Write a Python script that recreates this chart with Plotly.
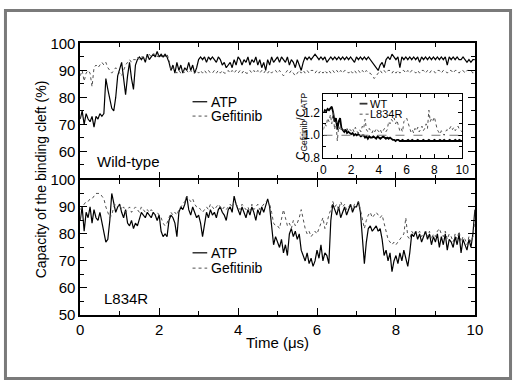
import plotly.graph_objects as go

# ---------------- data ----------------
time_main = [round(i * 0.05, 2) for i in range(201)]   # 0 .. 10 us
time_inset = [round(i * 0.1, 1) for i in range(101)]   # 0 .. 10 us

wt_atp = [
    72, 75, 70, 74, 72, 71, 73, 69, 73, 72, 74, 73, 74, 87, 83, 80, 76, 75, 80, 88,
    91, 93, 87, 81, 88, 93, 87, 83, 92, 94, 95, 94, 95, 93, 96, 94, 95, 96, 95, 97,
    95, 96, 95, 96, 95, 93, 90, 92, 89, 93, 90, 92, 89, 91, 90, 93, 90, 92, 89, 91,
    94, 95, 94, 95, 93, 95, 94, 95, 94, 93, 95, 94, 92, 93, 91, 92, 93, 91, 94, 92,
    95, 94, 92, 94, 93, 95, 92, 94, 93, 95, 92, 94, 91, 93, 90, 94, 92, 95, 93, 94,
    95, 93, 95, 94, 93, 95, 92, 94, 93, 91, 94, 92, 90, 93, 95, 94, 95, 94, 95, 96,
    95, 94, 95, 94, 95, 93, 94, 95, 94, 95, 94, 95, 94, 95, 94, 95, 94, 95, 94, 93,
    95, 94, 95, 94, 95, 94, 95, 94, 93, 92, 91, 90, 92, 93, 91, 94, 95, 94, 96, 95,
    94, 95, 91, 95, 94, 95, 94, 95, 94, 95, 94, 95, 93, 95, 94, 95, 94, 95, 94, 95,
    94, 95, 94, 95, 94, 95, 92, 95, 94, 95, 94, 95, 94, 94, 95, 94, 93, 94, 93, 94,
    94,
]
wt_gef = [
    88, 90, 86, 89, 90, 89, 84, 91, 92, 91, 92, 93, 92, 93, 91, 90, 89, 90, 91, 90,
    89, 88, 90, 92, 93, 94, 93, 94, 94, 95, 94, 95, 95, 94, 95, 96, 95, 96, 96, 95,
    96, 95, 96, 95, 96, 94, 90, 91, 90, 89, 90, 89, 90, 89, 90, 89, 90, 89, 89, 90,
    89, 90, 89, 90, 89, 90, 89, 89, 90, 89, 90, 89, 90, 89, 89, 90, 89, 90, 89, 90,
    89, 90, 89, 90, 89, 89, 90, 89, 90, 89, 90, 89, 90, 89, 90, 89, 90, 89, 90, 90,
    89, 90, 89, 88, 89, 90, 89, 90, 89, 88, 89, 90, 89, 90, 89, 90, 89, 90, 90, 89,
    90, 89, 90, 89, 90, 89, 90, 89, 90, 89, 90, 89, 90, 89, 90, 90, 89, 90, 89, 90,
    89, 90, 89, 90, 89, 90, 89, 89, 88, 87, 88, 89, 90, 89, 90, 89, 90, 90, 89, 90,
    89, 90, 89, 90, 90, 89, 90, 89, 90, 90, 89, 90, 89, 90, 90, 89, 90, 89, 90, 90,
    89, 90, 90, 89, 90, 90, 89, 90, 90, 89, 90, 90, 89, 90, 90, 89, 90, 90, 90, 89,
    90,
]
l834r_atp = [
    85, 90, 81, 88, 86, 90, 84, 89, 86, 85, 88, 84, 80, 77, 78, 85, 95, 91, 88, 90,
    91, 88, 86, 89, 84, 83, 85, 82, 84, 83, 86, 88, 87, 86, 88, 87, 86, 88, 87, 85,
    87, 81, 79, 80, 79, 85, 87, 86, 84, 79, 88, 90, 89, 91, 94, 89, 87, 90, 88, 86,
    87, 84, 79, 83, 88, 86, 89, 87, 88, 86, 89, 90, 88, 87, 85, 89, 90, 88, 94, 91,
    89, 87, 90, 88, 86, 89, 87, 90, 88, 85, 89, 87, 90, 88, 91, 93, 90, 84, 76, 79,
    77, 75, 78, 73, 76, 72, 80, 82, 79, 81, 78, 80, 74, 72, 70, 73, 69, 71, 68, 70,
    74, 71, 76, 70, 73, 72, 69, 85, 91, 89, 87, 90, 86, 88, 90, 87, 89, 91, 88, 90,
    90, 92, 88, 80, 69, 77, 82, 83, 81, 82, 83, 81, 82, 78, 72, 74, 70, 73, 66, 70,
    72, 69, 73, 70, 74, 71, 68, 73, 80, 79, 81, 78, 80, 77, 79, 81, 78, 80, 76, 79,
    77, 80, 75, 79, 76, 80, 74, 78, 77, 75, 79, 76, 80, 73, 78, 76, 74, 78, 75, 80,
    89,
]
l834r_gef = [
    89, 90, 91, 92, 92, 93, 93, 94, 95, 95, 95, 94, 93, 90, 88, 86, 87, 90, 91, 90,
    91, 89, 90, 88, 89, 90, 88, 89, 90, 89, 88, 90, 89, 88, 89, 88, 89, 88, 87, 88,
    87, 86, 84, 83, 84, 86, 88, 87, 88, 87, 89, 90, 91, 92, 94, 93, 92, 93, 91, 90,
    90, 89, 88, 89, 90, 89, 91, 90, 89, 90, 91, 90, 89, 90, 89, 90, 91, 90, 92, 91,
    90, 89, 91, 90, 89, 90, 88, 91, 89, 90, 91, 89, 90, 91, 92, 92, 91, 88, 84, 83,
    83, 82, 85, 89, 86, 83, 84, 82, 85, 83, 84, 86, 89, 85, 82, 80, 81, 79, 80, 81,
    80, 82, 84, 86, 82, 84, 87, 89, 92, 90, 91, 89, 92, 90, 91, 89, 90, 91, 89, 91,
    91, 92, 89, 85, 82, 85, 87, 88, 86, 87, 88, 87, 86, 87, 84, 80, 78, 77, 76, 77,
    76, 77, 78, 79, 80, 86, 79, 78, 81, 80, 81, 80, 81, 79, 80, 81, 79, 81, 78, 80,
    79, 81, 82, 80, 79, 81, 78, 80, 79, 77, 80, 78, 81, 77, 79, 78, 76, 79, 77, 79,
    85,
]
ratio_wt = [
    1.20, 1.22, 1.21, 1.23, 1.22, 1.24, 1.25, 1.20, 1.12, 1.15,
    1.05, 1.12, 1.15, 1.06, 1.04, 1.03, 1.05, 1.02, 1.03, 1.02,
    1.01, 1.02, 1.00, 1.01, 1.00, 1.01, 1.00, 0.99, 1.00, 1.00,
    0.98, 0.99, 0.97, 0.99, 0.98, 0.98, 0.99, 0.98, 0.97, 0.99,
    0.98, 0.97, 0.98, 0.99, 0.98, 0.97, 0.98, 0.97, 0.98, 0.97,
    0.96, 0.96, 0.95, 0.96, 0.96, 0.95, 0.95, 0.96, 0.95, 0.95,
    0.95, 0.96, 0.95, 0.95, 0.96, 0.95, 0.95, 0.95, 0.96, 0.95,
    0.95, 0.95, 0.96, 0.95, 0.95, 0.95, 0.96, 0.95, 0.95, 0.95,
    0.96, 0.95, 0.95, 0.95, 0.96, 0.95, 0.95, 0.96, 0.95, 0.95,
    0.95, 0.96, 0.95, 0.95, 0.95, 0.96, 0.95, 0.95, 0.96, 0.95,
    0.95,
]
ratio_l834r = [
    1.05, 1.10, 1.08, 1.15, 1.12, 1.18, 1.10, 1.20, 1.05, 1.12,
    0.95, 1.08, 1.04, 1.06, 1.03, 1.05, 1.04, 1.06, 1.03, 1.05,
    1.04, 1.06, 1.03, 1.07, 1.04, 1.02, 1.05, 1.03, 1.08, 1.06,
    1.14, 1.05, 1.03, 1.06, 1.04, 1.02, 1.05, 1.03, 1.06, 1.04,
    1.03, 1.05, 1.02, 1.04, 1.06, 1.03, 1.05, 1.12, 1.10, 1.14,
    1.12, 1.15, 1.10, 1.13, 1.09, 1.04, 1.06, 1.03, 1.12, 1.14,
    1.15, 1.11, 1.06, 1.03, 1.05, 1.02, 1.06, 1.04, 1.07, 1.03,
    1.05, 1.08, 1.04, 1.06, 1.10, 1.06, 1.22, 1.12, 1.15, 1.13,
    1.16, 1.10, 1.05, 1.03, 1.01, 1.04, 1.02, 1.00, 1.03, 1.05,
    1.04, 1.06, 1.08, 1.05, 1.07, 1.04, 1.06, 1.08, 1.05, 1.04,
    1.03,
]

x_ticks = [0, 2, 4, 6, 8, 10]
x_minor = [1, 3, 5, 7, 9]
y_ticks = [50, 60, 70, 80, 90, 100]
y_ticks_top = [60, 70, 80, 90, 100]
y_minor = [55, 65, 75, 85, 95]
inset_y_ticks = [0.8, 1.0, 1.2]
inset_y_minor = [0.9, 1.1, 1.3]

for name, arr, n in [("wt_atp", wt_atp, 201), ("wt_gef", wt_gef, 201),
                     ("l834r_atp", l834r_atp, 201), ("l834r_gef", l834r_gef, 201),
                     ("ratio_wt", ratio_wt, 101), ("ratio_l834r", ratio_l834r, 101)]:
    assert len(arr) == n, f"{name}: {len(arr)}"

# ---------------- figure ----------------
FONT = "Liberation Sans, Arial, Helvetica, sans-serif"
W, H = 520, 388
L, R = 78, 482
TOP_T, MID, BOT = 36, 178, 320
IN_L, IN_R, IN_T, IN_B = 327, 469, 89, 156
LW = 1.5  # main axis line width


def px(x):
    return x / W


def py(y):
    return 1 - y / H


atp_line = dict(color="black", width=1.2)
gef_line = dict(color="#505050", width=1.0, dash="dot")

fig = go.Figure()
fig.add_trace(go.Scatter(x=time_main, y=wt_atp, mode="lines", name="ATP",
                         line=atp_line, xaxis="x2", yaxis="y2"))
fig.add_trace(go.Scatter(x=time_main, y=wt_gef, mode="lines", name="Gefitinib",
                         line=gef_line, xaxis="x2", yaxis="y2"))
fig.add_trace(go.Scatter(x=time_main, y=l834r_atp, mode="lines", name="ATP",
                         line=atp_line, xaxis="x", yaxis="y"))
fig.add_trace(go.Scatter(x=time_main, y=l834r_gef, mode="lines", name="Gefitinib",
                         line=gef_line, xaxis="x", yaxis="y"))
fig.add_trace(go.Scatter(x=time_inset, y=ratio_wt, mode="lines", name="WT",
                         line=dict(color="black", width=1.8), xaxis="x3", yaxis="y3"))
fig.add_trace(go.Scatter(x=time_inset, y=ratio_l834r, mode="lines", name="L834R",
                         line=dict(color="#505050", width=1.0, dash="dot"),
                         xaxis="x3", yaxis="y3"))

minor_main = dict(ticks="inside", ticklen=4, tickwidth=1.2, tickcolor="black")
axis_common = dict(showline=True, linecolor="black", linewidth=LW, mirror="ticks",
                   ticks="inside", ticklen=7, tickwidth=1.4, tickcolor="black",
                   showgrid=False, zeroline=False,
                   tickfont=dict(family=FONT, size=15, color="black"))
inset_common = dict(showline=True, linecolor="black", linewidth=1, mirror="ticks",
                    ticks="inside", ticklen=4, tickwidth=1, tickcolor="black",
                    showgrid=False, zeroline=False,
                    tickfont=dict(family=FONT, size=12, color="black"))
minor_inset = dict(ticks="inside", ticklen=3, tickwidth=1, tickcolor="black")

half = LW / 2
fig.update_layout(
    width=W, height=H, autosize=False,
    margin=dict(l=0, r=0, t=0, b=0),
    paper_bgcolor="white", plot_bgcolor="white",
    font=dict(family=FONT, color="black"),
    showlegend=False,
    xaxis=dict(domain=[px(L), px(R)], range=[0, 10], anchor="y",
               tickmode="array", tickvals=x_ticks,
               minor=dict(tickvals=x_minor, **minor_main), **axis_common),
    yaxis=dict(domain=[py(BOT), py(MID + half)], range=[50, 100], anchor="x",
               tickmode="array", tickvals=y_ticks,
               minor=dict(tickvals=y_minor, **minor_main), **axis_common),
    xaxis2=dict(domain=[px(L), px(R)], range=[0, 10], anchor="y2",
                tickmode="array", tickvals=x_ticks, showticklabels=False,
                minor=dict(tickvals=x_minor, **minor_main), **axis_common),
    yaxis2=dict(domain=[py(MID - half), py(TOP_T)], range=[50, 100], anchor="x2",
                tickmode="array", tickvals=y_ticks_top,
                minor=dict(tickvals=y_minor, **minor_main), **axis_common),
    xaxis3=dict(domain=[px(IN_L), px(IN_R)], range=[0, 10], anchor="y3",
                tickmode="array", tickvals=x_ticks,
                minor=dict(tickvals=x_minor, **minor_inset), **inset_common),
    yaxis3=dict(domain=[py(IN_B), py(IN_T)], range=[0.8, 1.36], anchor="x3",
                tickmode="array", tickvals=inset_y_ticks, ticktext=["0.8", "1.0", "1.2"],
                minor=dict(tickvals=inset_y_minor, **minor_inset), **inset_common),
)

# reference line at ratio 1.0 in the inset
fig.add_shape(type="line", xref="x3", yref="y3", x0=0, x1=10, y0=1.0, y1=1.0,
              line=dict(color="#777777", width=1, dash="dash"))
# outer gray frame
fig.add_shape(type="rect", xref="paper", yref="paper",
              x0=px(1.5), x1=px(W - 1.5), y0=py(H - 1.5), y1=py(1.5),
              line=dict(color="#7a7a7a", width=3))


def text(t, x, y, size, xanchor="left", angle=0):
    fig.add_annotation(xref="paper", yref="paper", x=px(x), y=py(y), text=t,
                       showarrow=False, xanchor=xanchor, yanchor="middle",
                       textangle=angle, borderpad=0,
                       font=dict(family=FONT, size=size, color="black"))


def legend_entry(x0, x1, y, line, label, size, tx):
    fig.add_shape(type="line", xref="paper", yref="paper",
                  x0=px(x0), x1=px(x1), y0=py(y), y1=py(y), line=line)
    text(label, tx, y, size)


# legends (line samples + labels)
legend_entry(193, 208, 97, atp_line, "ATP", 14, 211)
legend_entry(193, 208, 112, gef_line, "Gefitinib", 14, 211)
legend_entry(193, 208, 255, atp_line, "ATP", 14, 211)
legend_entry(193, 208, 271, gef_line, "Gefitinib", 14, 211)
legend_entry(364, 372, 99, dict(color="#333333", width=1.8), "WT", 11, 374)
legend_entry(364, 374, 110, dict(color="#505050", width=1.0, dash="dot"), "L834R", 11, 374)

# titles and panel labels
text("Capacity of the binding cleft (%)", 38, MID, 14, xanchor="center", angle=-90)
text("Time (\u03bcs)", 280, 349, 15, xanchor="center")
text("Wild-type", 94, 160, 15)
text("L834R", 101, 303, 15)
text("C<sub>Gefitinib</sub>/C<sub>ATP</sub>", 305, (IN_T + IN_B) / 2, 12,
     xanchor="center", angle=-90)

fig.write_html(
    "out.html",
    config={"displayModeBar": False},
    post_script=(
        "document.documentElement.style.margin='0';"
        "document.documentElement.style.overflow='hidden';"
        "document.body.style.margin='0';document.body.style.padding='0';"
        "document.body.style.overflow='hidden';"
        "var gd=document.getElementById('{plot_id}');"
        "gd.style.position='fixed';gd.style.left='0px';gd.style.top='0px';"
    ),
)
